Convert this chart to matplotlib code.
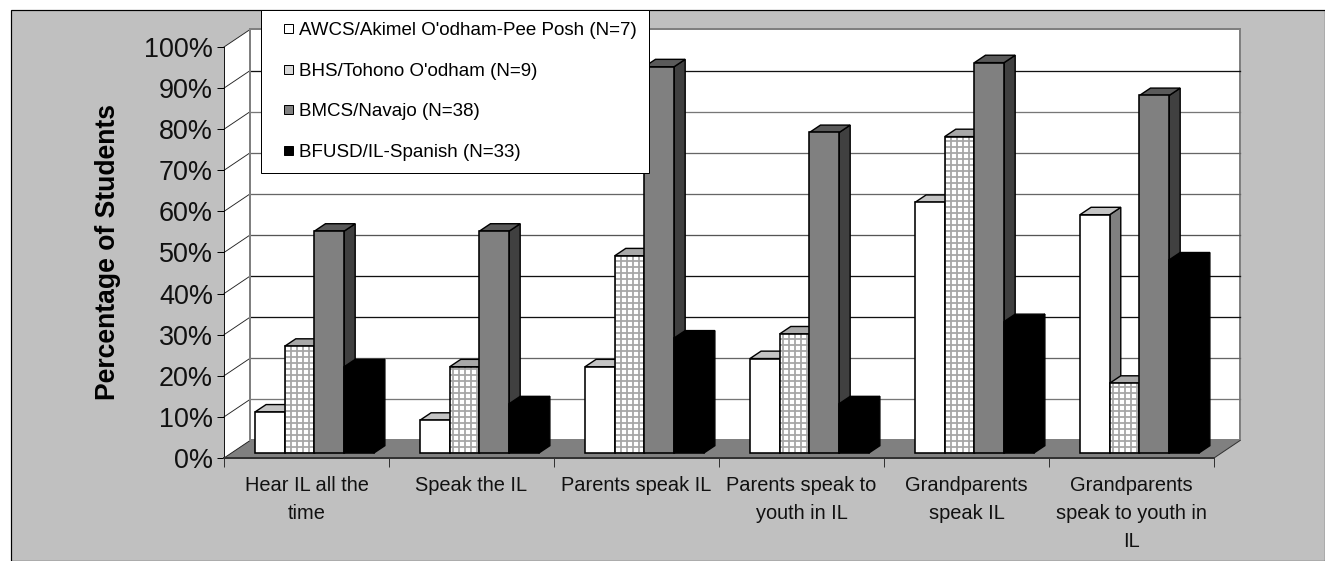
import matplotlib
matplotlib.use("Agg")
import matplotlib.pyplot as plt
from matplotlib.legend_handler import HandlerPatch
from matplotlib.patches import Patch, Polygon, Rectangle

# Data
categories = ["Hear IL all the\ntime", "Speak the IL", "Parents speak IL",
              "Parents speak to\nyouth in IL", "Grandparents\nspeak IL",
              "Grandparents\nspeak to youth in\nIL"]
series_names = ["AWCS/Akimel O'odham-Pee Posh (N=7)", "BHS/Tohono O'odham (N=9)",
                "BMCS/Navajo (N=38)", "BFUSD/IL-Spanish (N=33)"]
awcs = [10, 8, 21, 23, 61, 58]
bhs = [26, 21, 48, 29, 77, 17]
bmcs = [54, 54, 94, 78, 95, 87]
bfusd = [21, 12, 28, 12, 32, 47]
y_ticks = [0, 10, 20, 30, 40, 50, 60, 70, 80, 90, 100]

series = [awcs, bhs, bmcs, bfusd]

# front, top, side colours per series
fronts = ["#ffffff", "#ffffff", "#808080", "#000000"]
tops = ["#c4c4c4", "#a8a8a8", "#5a5a5a", "#000000"]
sides = ["#808080", "#808080", "#404040", "#000000"]
grid_colors = ["#777777", "#666666", "#111111", "#111111", "#555555",
               "#666666", "#666666", "#777777", "#111111"]

# fake 3D depth, in axis units
wall_dx, wall_dy = 0.158, 4.26
bar_dx, bar_dy = 0.067, 1.8
lift = 1.2
bar_w = 0.18
group_start = 0.188

W, H = 1325, 561
plt.rcParams["font.family"] = ["Liberation Sans", "DejaVu Sans"]
plt.rcParams["hatch.linewidth"] = 1.8

fig = plt.figure(figsize=(W / 72, H / 72), dpi=72, facecolor="white")
fig.add_artist(Rectangle((11 / W, 0), 1 - 11 / W, 1 - 10 / H, transform=fig.transFigure,
                         facecolor="#c0c0c0", edgecolor="black", linewidth=1.2, zorder=-1))

ax = fig.add_axes([224 / W, (H - 458) / H, 990 / W, 411 / H])
ax.set_xlim(0, 6)
ax.set_ylim(0, 100)
ax.patch.set_visible(False)


def poly(points, **kw):
    p = Polygon(points, closed=True, clip_on=False, **kw)
    ax.add_patch(p)
    return p


# walls and floor
poly([(wall_dx, wall_dy), (6 + wall_dx, wall_dy), (6 + wall_dx, 100 + wall_dy), (wall_dx, 100 + wall_dy)],
     facecolor="white", edgecolor="#808080", linewidth=2, zorder=1)
poly([(0, 0), (wall_dx, wall_dy), (wall_dx, 100 + wall_dy), (0, 100)],
     facecolor="white", edgecolor="none", zorder=1)
ax.plot([wall_dx, wall_dx], [wall_dy, 100 + wall_dy], color="#808080", lw=2, zorder=1.5, clip_on=False)
poly([(0, 0), (6, 0), (6 + wall_dx, wall_dy), (wall_dx, wall_dy)], facecolor="#808080", edgecolor="none", zorder=1.2)

for i, t in enumerate(y_ticks[1:-1]):
    ax.plot([wall_dx, 6 + wall_dx], [t + wall_dy, t + wall_dy], color=grid_colors[i], lw=1.3,
            zorder=1.4, clip_on=False)
for t in y_ticks:
    ax.plot([0, wall_dx], [t, t + wall_dy], color="#222222", lw=0.9, zorder=1.4, clip_on=False)
ax.plot([6, 6 + wall_dx], [0, wall_dy], color="#333333", lw=1, zorder=1.4, clip_on=False)

# bars, painted left to right so each one covers the side of the previous
z = 2.0
for c in range(len(categories)):
    for s, values in enumerate(series):
        v = values[c]
        x0 = c + group_start + s * bar_w
        x1 = x0 + bar_w
        poly([(x1, lift), (x1 + bar_dx, lift + bar_dy), (x1 + bar_dx, lift + v + bar_dy), (x1, lift + v)],
             facecolor=sides[s], edgecolor="black", linewidth=1.4, zorder=z)
        poly([(x0, lift + v), (x1, lift + v), (x1 + bar_dx, lift + v + bar_dy), (x0 + bar_dx, lift + v + bar_dy)],
             facecolor=tops[s], edgecolor="black", linewidth=1.4, zorder=z + 0.01)
        if s == 1:
            ax.bar(x0, v, bar_w, bottom=lift, align="edge", facecolor=fronts[s], edgecolor="#a6a6a6",
                   hatch="++", linewidth=0, zorder=z + 0.02, clip_on=False)
            ax.bar(x0, v, bar_w, bottom=lift, align="edge", facecolor="none", edgecolor="black",
                   linewidth=1.6, zorder=z + 0.03, clip_on=False)
        else:
            ax.bar(x0, v, bar_w, bottom=lift, align="edge", facecolor=fronts[s], edgecolor="black",
                   linewidth=1.6, zorder=z + 0.03, clip_on=False)
        z += 0.1

# axes
for name in ["top", "right"]:
    ax.spines[name].set_visible(False)
ax.spines["left"].set_linewidth(0.9)
ax.spines["bottom"].set_linewidth(2)
ax.spines["bottom"].set_color("#333333")
ax.spines["bottom"].set_zorder(50)

ax.set_yticks(y_ticks)
ax.set_yticklabels([f"{t}%" for t in y_ticks], fontsize=27, color="#111111")
ax.tick_params(axis="y", length=7, width=1, pad=4)
ax.set_xticks(range(7))
ax.set_xticklabels([])
ax.tick_params(axis="x", which="major", length=9, width=1, color="#333333")
ax.set_xticks([c + 0.5 for c in range(6)], minor=True)
ax.set_xticklabels(categories, minor=True, fontsize=20, color="#111111", linespacing=1.6, va="top")
ax.tick_params(axis="x", which="minor", length=0, pad=18)
ax.set_ylabel("Percentage of Students", fontsize=26.5, fontweight="bold", labelpad=23)


# small legend square at the right end of the handle box
def legend_square(legend, orig_handle, xdescent, ydescent, width, height, fontsize):
    return Rectangle((width - 9, (height - 9) / 2), 9, 9)


# legend
handles = [Patch(facecolor="white", edgecolor="black"),
           Patch(facecolor="#d8d8d8", edgecolor="black"),
           Patch(facecolor="#808080", edgecolor="black"),
           Patch(facecolor="black", edgecolor="black")]
leg = ax.legend(handles, series_names, loc="upper left", fontsize=18.7,
                bbox_to_anchor=(261 / W, 1 - 10 / H), bbox_transform=fig.transFigure,
                frameon=True, fancybox=False, framealpha=1, edgecolor="black",
                borderaxespad=0, handlelength=1.08, handletextpad=0.33,
                labelspacing=1.26, borderpad=0.64,
                handler_map={Patch: HandlerPatch(patch_func=legend_square)})
leg.set_zorder(100)

fig.savefig("out.png", dpi=72)
